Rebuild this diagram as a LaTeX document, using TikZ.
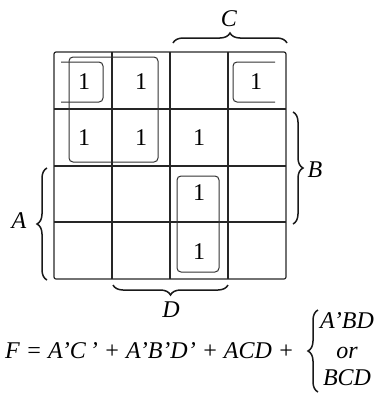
\documentclass[tikz,border=0pt]{standalone}
\usepackage{fontspec}
\setmainfont{Liberation Serif}
\usetikzlibrary{decorations.pathreplacing}
\begin{document}
\begin{tikzpicture}[x=1pt,y=-1pt,
  gridline/.style={line width=1.2pt,draw=black!85},
  looppath/.style={line width=1pt,draw=black!80,rounded corners=4pt},
  one/.style={font=\fontsize{24}{24}\selectfont,inner sep=0pt},
  lbl/.style={font=\fontsize{24}{24}\selectfont\itshape,inner sep=0pt},
  brc/.style={decorate,decoration={brace,amplitude=10pt,aspect=0.5},line width=1.5pt,draw=black!90}]
\useasboundingbox (0,0) rectangle (380,394);
% grid
\draw[gridline,rounded corners=2pt] (54,52) rectangle (286,279);
\foreach \x in {112,170,228} \draw[gridline] (\x,52) -- (\x,279);
\foreach \y in {109,166,222} \draw[gridline] (54,\y) -- (286,\y);
% ones
\node[one] (c00) at (84,82) {1};
\node[one] (c01) at (141,82) {1};
\node[one] (c03) at (256,82) {1};
\node[one] (c10) at (84,138) {1};
\node[one] (c11) at (141,138) {1};
\node[one] (c12) at (199,138) {1};
\node[one] (c22) at (199,193) {1};
\node[one] (c32) at (199,252) {1};
% loops
\draw[looppath] (69,57) rectangle (158,162);
\draw[looppath] (61,62) -- (103,62) -- (103,102) -- (61,102);
\draw[looppath] (275,62) -- (233,62) -- (233,102) -- (275,102);
\draw[looppath] (177,176) rectangle (219,272);
% braces
\coordinate (cl) at (173,43); \coordinate (cr) at (287,43);
\draw[brc] (cl) -- (cr);
\node[lbl] (C) at (229,19) {C};
\coordinate (bt) at (293,112); \coordinate (bb) at (293,224);
\draw[brc] (bt) -- (bb);
\node[lbl] (B) at (315,170) {B};
\coordinate (at) at (47,168); \coordinate (ab) at (47,280);
\draw[brc,decoration={mirror}] (at) -- (ab);
\node[lbl] (A) at (19,221) {A};
\coordinate (dl) at (113,285); \coordinate (dr) at (228,285);
\draw[brc,decoration={mirror}] (dl) -- (dr);
\node[lbl] (D) at (171,310) {D};
% equation
\node[lbl,anchor=base west] (F) at (5,358) {F = A'C\,' + A'B'D' + ACD +};
\coordinate (et) at (318,310); \coordinate (eb) at (318,392);
\draw[brc,decoration={mirror,amplitude=10pt}] (et) -- (eb);
\node[lbl,anchor=base] (t1) at (347,328) {A'BD};
\node[lbl,anchor=base] (t2) at (347,358) {or};
\node[lbl,anchor=base] (t3) at (347,385) {BCD};
\end{tikzpicture}
\end{document}
